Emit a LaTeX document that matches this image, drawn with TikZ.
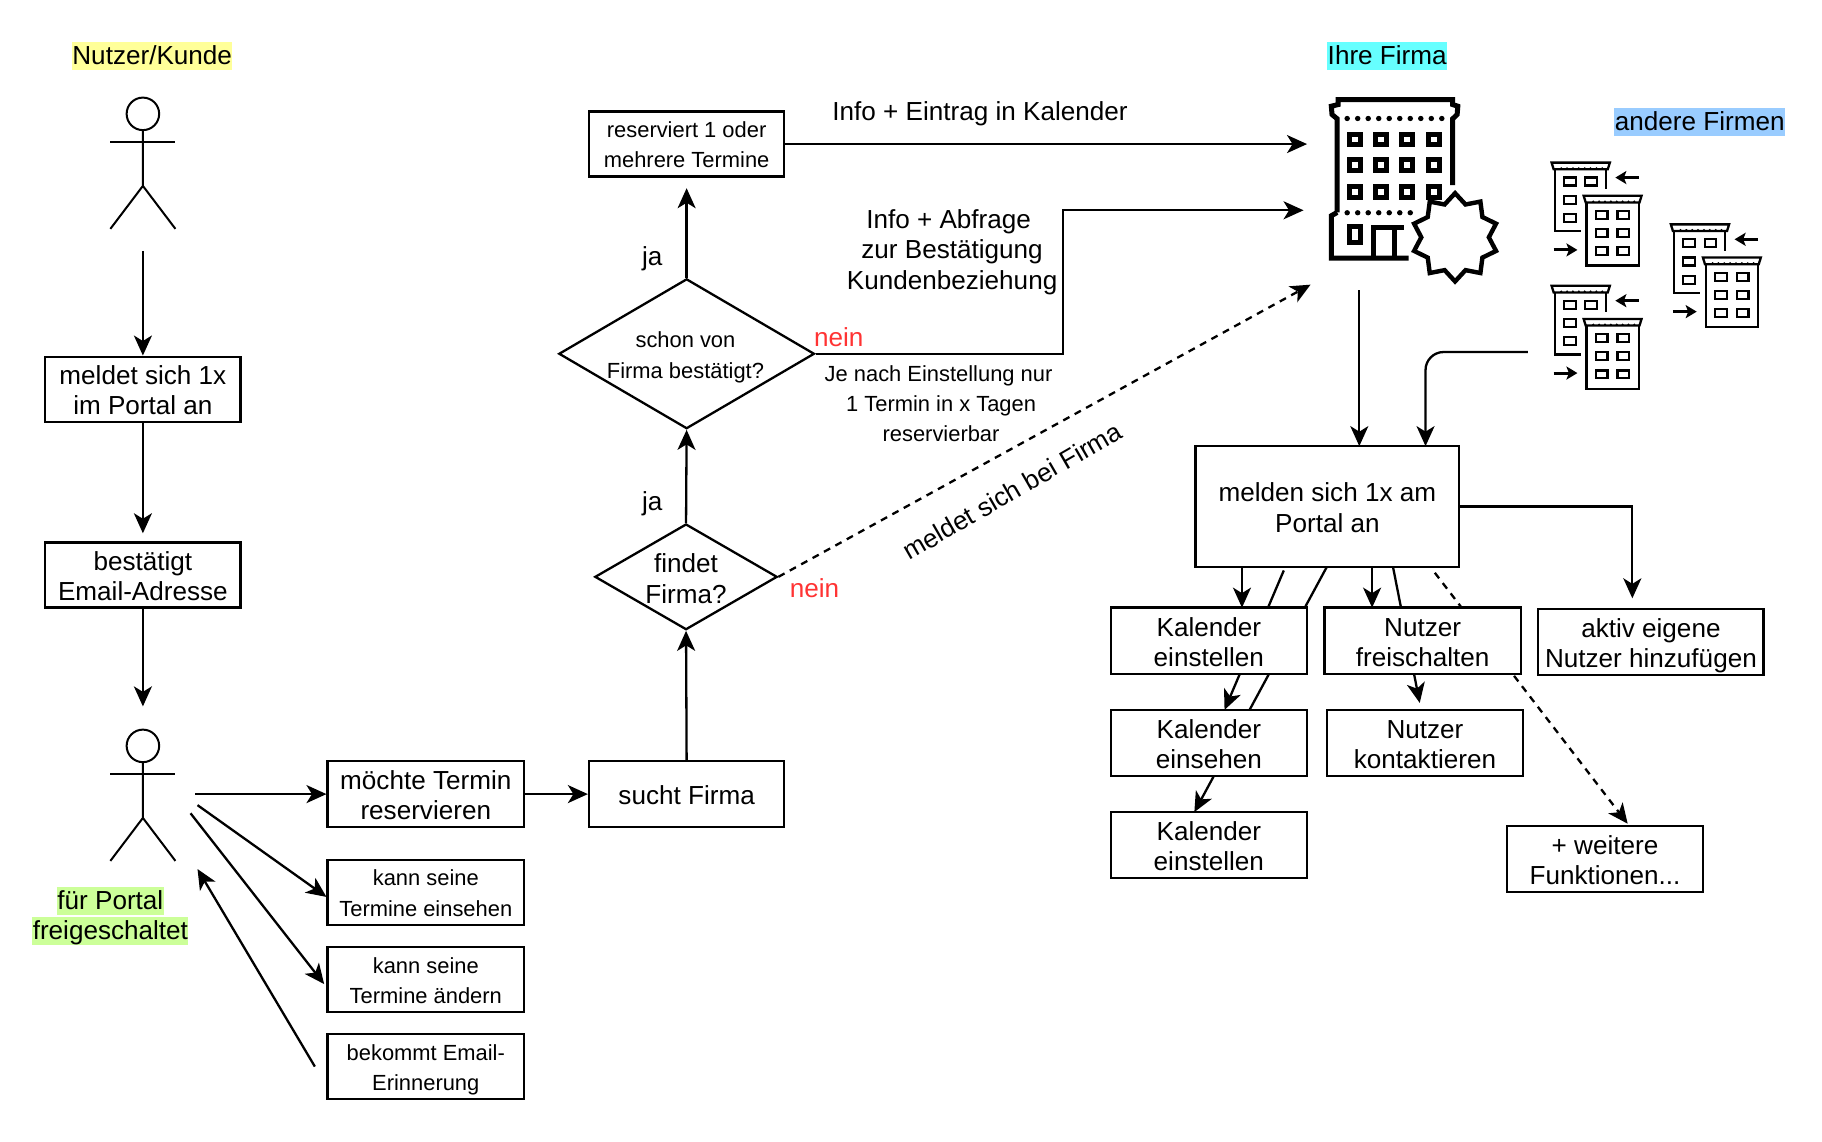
\documentclass[tikz,border=0pt]{standalone}
\usepackage{fontspec}
\setmainfont{Liberation Sans}
\usetikzlibrary{arrows.meta,shapes.geometric}
\definecolor{hlyellow}{HTML}{FFFF99}
\definecolor{hlcyan}{HTML}{66FFFF}
\definecolor{hlblue}{HTML}{99CCFF}
\definecolor{hlgreen}{HTML}{CCFF99}
\definecolor{neinred}{HTML}{FF3333}
\tikzset{
  line/.style={line width=2.3pt,draw=black},
  conn/.style={line,-{Stealth[length=20pt,width=18pt,inset=5.5pt]}},
  bigtxt/.style={font=\fontsize{26.1}{30.3}\selectfont,align=center,inner sep=0pt},
  smalltxt/.style={font=\fontsize{21.9}{30.3}\selectfont,align=center,inner sep=0pt},
  boxbase/.style={rectangle,line,fill=white,inner sep=0pt,align=center},
  hl/.style={bigtxt,inner xsep=0.5pt,text height=22.5pt,text depth=6pt},
  diam/.style={diamond,line,fill=white,inner sep=0pt},
  bldg/.style={line width=#1,line cap=butt,line join=miter},
}
\newcommand{\tx}[1]{\rule{0pt}{1.02em}#1\rule[-.22em]{0pt}{0pt}}
% \bx{name}{x0}{y0}{x1}{y1}{font style}{text}
\newcommand{\bx}[7]{%
  \node[boxbase,#6,minimum width=(#4-#2)*1.1618pt,minimum height=(#5-#3)*1.1618pt] (#1) at ({(#2+#4)/2},{(#3+#5)/2}) {\tx{#7}};}
\newcommand{\stickman}[2]{%
  \begin{scope}[shift={(#1,#2)}]
    \draw[line,line width=2pt] (0,14) ellipse (14 and 14);
    \draw[line,line width=2pt] (0,28) -- (0,76) -- (-28,113);
    \draw[line,line width=2pt] (0,76) -- (28,113);
    \draw[line,line width=2pt] (-28,38) -- (28,38);
  \end{scope}}
\newcommand{\smallbld}{%
  \draw[bldg=2.3pt] (797,505) -- (797,697) -- (872,697);
  \draw[bldg=2.3pt] (945,505) -- (945,570);
  \draw[bldg=2.3pt,fill=white] (787,490) -- (956,490) -- (950,510) -- (793,510) -- cycle;
  \foreach \dx in {815,832,...,940} {\fill (\dx,507) circle (3.4);}
  \foreach \wx/\wy in {840/547,902/547,840/602,840/657} {\draw[bldg=2.2pt] (\wx-17,\wy-12) rectangle (\wx+17,\wy+12);}
  \draw[bldg=2.3pt,fill=white] (888,600) rectangle (1040,800);
  \draw[bldg=2.3pt,fill=white] (880,590) -- (1048,590) -- (1042,610) -- (886,610) -- cycle;
  \foreach \dx in {908,925,...,1030} {\fill (\dx,607) circle (3.4);}
  \foreach \wx in {932,995} {\foreach \wy in {648,702,757} {\draw[bldg=2.2pt] (\wx-17,\wy-12) rectangle (\wx+17,\wy+12);}}
  \draw[bldg=2.9pt,-{Stealth[length=11pt,width=13pt,inset=2.5pt]}] (1040,535) -- (972,535);
  \draw[bldg=2.9pt,-{Stealth[length=11pt,width=13pt,inset=2.5pt]}] (793,753) -- (862,753);}
\begin{document}
\begin{tikzpicture}[x=1.1618pt,y=-1.1618pt]
\useasboundingbox (0,0) rectangle (1568.26,982.1);

% free ends of connectors
\coordinate (a1s) at (123,216);
\coordinate (t2) at (123,459);
\coordinate (t3) at (123,608);
\coordinate (a2a) at (168,683.5);
\coordinate (a2b) at (170,693);
\coordinate (a2be) at (281,772);
\coordinate (a2c) at (164,700);
\coordinate (a2ce) at (279,847);
\coordinate (a2d) at (271,918);
\coordinate (a2de) at (170,748);
\coordinate (t11) at (591,162);
\coordinate (t12) at (1125,124);
\coordinate (t13) at (1122,181);
\coordinate (k13) at (915,304.5);
\coordinate (k13b) at (915,181);
\coordinate (t14) at (1128,245);
\coordinate (s15) at (1170,250);
\coordinate (e15) at (1170,384);
\coordinate (s16) at (1315,303);
\coordinate (k16) at (1227,303);
\coordinate (e16) at (1227,384);
\coordinate (t17) at (1405,515);
\coordinate (s18) at (1069,488);
\coordinate (e18) at (1069,523);
\coordinate (s19) at (1105,491);
\coordinate (e19) at (1054,611);
\coordinate (s20) at (1142,488);
\coordinate (e20) at (1028,699);
\coordinate (s21) at (1181,488);
\coordinate (e21) at (1181,523);
\coordinate (s22) at (1199,488);
\coordinate (e22) at (1222,605);
\coordinate (s23) at (1235,493);
\coordinate (e23) at (1401,709);

% connectors that pass behind boxes
\draw[conn] (s19) -- (e19);
\draw[conn] (s20) -- (e20);
\draw[conn] (s22) -- (e22);
\draw[conn,dash pattern=on 7pt off 6pt] (s23) -- (e23);

% labels
\node[hl,fill=hlyellow] (lnutzer) at (131,48) {Nutzer/Kunde};
\node[hl,fill=hlcyan] (lfirma) at (1194,48) {Ihre Firma};
\node[hl,fill=hlblue] (landere) at (1463,105) {andere Firmen};
\node[hl,fill=hlgreen] (lfuer) at (95,775.5) {für Portal};
\node[hl,fill=hlgreen] (lfrei) at (95,801.5) {freigeschaltet};

% actors
\stickman{123}{84}
\stickman{123}{628}

% left column
\bx{meldet}{39}{307}{207}{363}{bigtxt}{meldet sich 1x\\im Portal an}
\bx{best}{39}{467}{207}{523}{bigtxt}{bestätigt\\Email-Adresse}
\bx{moechte}{282}{655}{451}{712}{bigtxt}{möchte Termin\\reservieren}
\bx{einsehen}{282}{740}{451}{796}{smalltxt}{kann seine\\Termine einsehen}
\bx{aendern}{282}{815}{451}{871}{smalltxt}{kann seine\\Termine ändern}
\bx{erinn}{282}{890}{451}{946}{smalltxt}{bekommt Email-\\Erinnerung}
\bx{sucht}{507}{655}{675}{712}{bigtxt}{sucht Firma}
\bx{reserv}{507}{96}{675}{152}{smalltxt}{reserviert 1 oder\\mehrere Termine}

% decisions
\node[diam,minimum width=220*1.1618pt,minimum height=129*1.1618pt,aspect=1.705] (schon) at (591,304.5) {};
\node[smalltxt] (schont) at (590,305) {\tx{schon von\\Firma bestätigt?}};
\node[diam,minimum width=157*1.1618pt,minimum height=91*1.1618pt,aspect=1.725] (findet) at (590.5,496.5) {};
\node[bigtxt] (findett) at (590.5,497) {\tx{findet\\Firma?}};

% right boxes
\bx{melden}{1029}{384}{1256}{488}{bigtxt}{melden sich 1x am\\Portal an}
\bx{kal1}{956}{523}{1125}{580}{bigtxt}{Kalender\\einstellen}
\bx{kal2}{956}{611}{1125}{668}{bigtxt}{Kalender\\einsehen}
\bx{kal3}{956}{699}{1125}{756}{bigtxt}{Kalender\\einstellen}
\bx{nfrei}{1140}{523}{1309}{580}{bigtxt}{Nutzer\\freischalten}
\bx{nkont}{1142}{611}{1311}{668}{bigtxt}{Nutzer\\kontaktieren}
\bx{aktiv}{1324}{524}{1518}{581}{bigtxt}{aktiv eigene\\Nutzer hinzufügen}
\bx{weitere}{1297}{711}{1466}{768}{bigtxt}{+ weitere\\Funktionen...}

% connectors
\draw[conn] (a1s) -- (meldet.north);
\draw[conn] (meldet.south) -- (t2);
\draw[conn] (best.south) -- (t3);
\draw[conn] (a2a) -- (moechte.west);
\draw[conn] (a2b) -- (a2be);
\draw[conn] (a2c) -- (a2ce);
\draw[conn] (a2d) -- (a2de);
\draw[conn] (moechte.east) -- (sucht.west);
\draw[conn] (sucht.north) -- (findet.south);
\draw[conn] (findet.north) -- (schon.south);
\draw[conn] (schon.north) -- (t11);
\draw[conn] (reserv.east) -- (t12);
\draw[conn] (schon.east) -- (k13) -- (k13b) -- (t13);
\draw[conn,dash pattern=on 7pt off 6pt] (findet.east) -- (t14);
\draw[conn] (s15) -- (e15);
\draw[conn,rounded corners=18pt] (s16) -- (k16) -- (e16);
\draw[conn] (melden.east) -| (t17);
\draw[conn] (s18) -- (e18);
\draw[conn] (s21) -- (e21);

% free texts
\node[bigtxt] (tinfo) at (843.5,97.5) {Info + Eintrag in Kalender};
\node[bigtxt] (tabfrage) at (819.5,217) {Info + Abfrage\rule{7pt}{0pt}\\zur Bestätigung\\Kundenbeziehung};
\node[bigtxt,text=neinred] (tn1) at (722,290) {nein};
\node[bigtxt,text=neinred] (tn2) at (701,506) {nein};
\node[bigtxt] (tj1) at (561.5,222.5) {ja};
\node[bigtxt] (tj2) at (561.5,433.5) {ja};
\node[smalltxt] (tje) at (810,347.5) {Je nach Einstellung nur\rule{5pt}{0pt}\\1 Termin in x Tagen\\reservierbar};
\node[bigtxt,rotate=30] (tbei) at (871,422.5) {meldet sich bei Firma};

% big building
\begin{scope}[shift={(1102,0)},x=0.3447pt,y=-0.3319pt]
  \draw[bldg=5pt] (165,640) -- (165,358) -- (150,345) -- (148,320) -- (168,315) -- (168,300) -- (500,300) -- (500,315) -- (515,320) -- (513,345) -- (500,358) -- (500,558);
  \draw[bldg=5pt] (165,640) -- (148,650) -- (148,778) -- (372,778);
  \draw[bldg=5pt] (270,778) -- (270,684) -- (360,684);
  \draw[bldg=5pt] (332,684) -- (332,778);
  \draw[bldg=5pt] (201,682) rectangle (234,730);
  \foreach \dx in {194,224.5,...,470} {\fill (\dx,357) circle (8);}
  \foreach \dx in {194,224.5,...,380} {\fill (\dx,641) circle (8);}
  \foreach \wx in {216,292,368,445} {\foreach \wy in {420,498,578} {\draw[bldg=5pt] (\wx-16,\wy-16) rectangle (\wx+16,\wy+16);}}
  \draw[bldg=4.4pt,fill=white] plot[variable=\i,samples at={0,1,...,19}] ({507+(mod(\i,2)==0?125:98)*sin(\i*18)},{715-(mod(\i,2)==0?133:104)*cos(\i*18)}) -- cycle;
\end{scope}

% other companies
\begin{scope}[shift={(1102,0)},x=0.3447pt,y=-0.3319pt]
  \smallbld
  \begin{scope}[yshift=-371*0.3319pt]
    \smallbld
  \end{scope}
  \begin{scope}[xshift=346*0.3447pt,yshift=-186*0.3319pt]
    \smallbld
  \end{scope}
\end{scope}
\end{tikzpicture}
\end{document}
